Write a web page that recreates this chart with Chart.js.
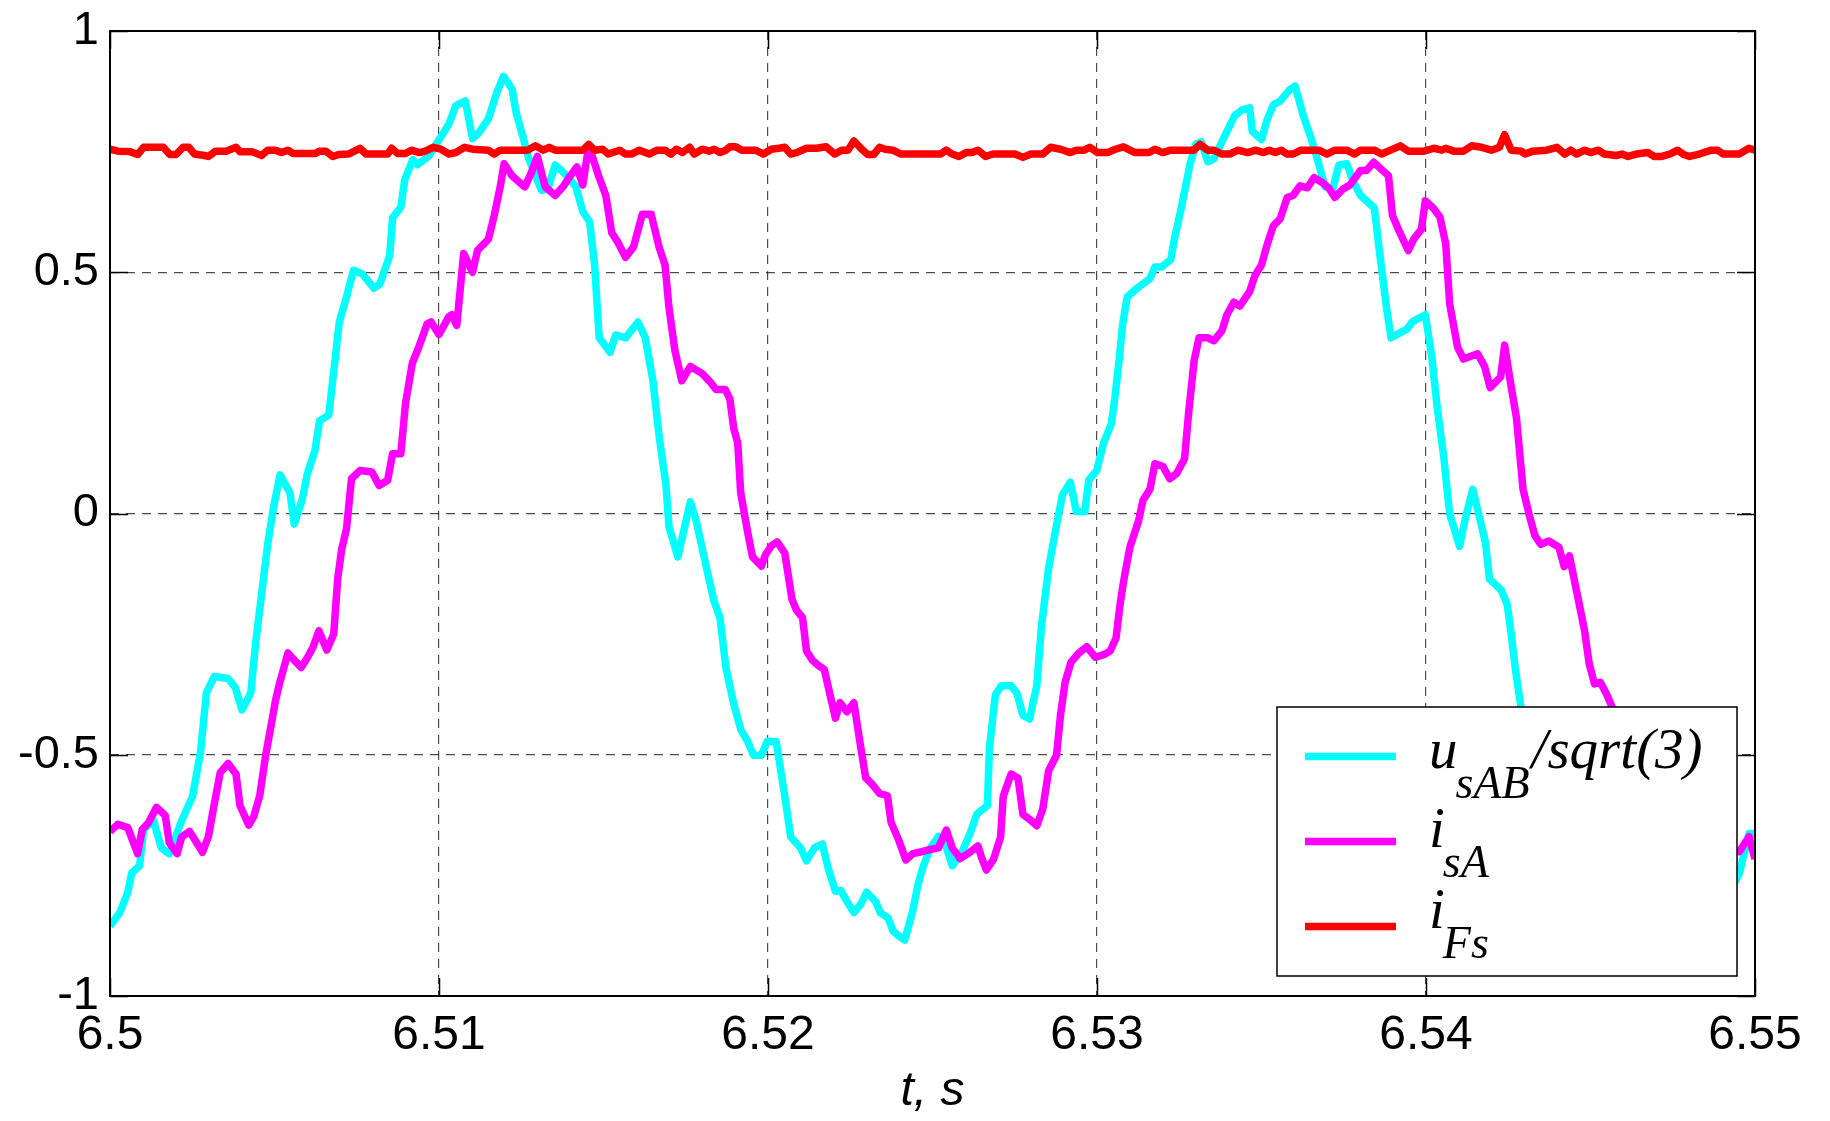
<!DOCTYPE html>
<html>
<head>
<meta charset="utf-8">
<title>u_sAB/sqrt(3), i_sA, i_Fs</title>
<script src="https://cdn.jsdelivr.net/npm/chart.js@4.4.1/dist/chart.umd.min.js"></script>
<style>
  html, body { margin: 0; padding: 0; background: #fff; }
  #wrap { width: 1830px; height: 1121px; }
</style>
</head>
<body>
<div id="wrap"><canvas id="lineChart" width="1830" height="1121"></canvas></div>
<script>
// time axis: values below are ms after t0
const t0 = 6.5;

const xTickValues = [6.5, 6.51, 6.52, 6.53, 6.54, 6.55];
const xTickLabels = ['6.5', '6.51', '6.52', '6.53', '6.54', '6.55'];
const yTickValues = [-1, -0.5, 0, 0.5, 1];
const yTickLabels = ['-1', '-0.5', '0', '0.5', '1'];

// u_sAB / sqrt(3)
const uTimeMs = [
  0.00, 0.30, 0.54, 0.66, 0.90, 1.02, 1.32, 1.56, 1.80, 2.16, 2.51, 2.75, 2.93, 3.17, 3.59, 3.81,
  4.01, 4.28, 4.43, 4.61, 4.79, 4.97, 5.17, 5.47, 5.60, 5.84, 5.99, 6.23, 6.37, 6.65, 6.80, 6.97,
  7.19, 7.40, 7.66, 8.02, 8.20, 8.50, 8.59, 8.84, 8.96, 9.20, 9.34, 9.68, 10.04, 10.30, 10.51, 10.80,
  11.02, 11.20, 11.50, 11.76, 11.96, 12.22, 12.34, 12.55, 12.72, 13.11, 13.30, 13.53, 13.89, 14.16, 14.37, 14.58,
  14.73, 14.87, 15.20, 15.37, 15.67, 16.05, 16.27, 16.51, 16.69, 16.90, 16.99, 17.26, 17.64, 17.82, 18.18, 18.36,
  18.54, 18.72, 18.96, 19.18, 19.38, 19.56, 19.80, 19.98, 20.25, 20.51, 20.69, 20.99, 21.17, 21.41, 21.65, 21.83,
  22.05, 22.21, 22.40, 22.61, 22.81, 23.00, 23.27, 23.41, 23.65, 23.80, 23.98, 24.16, 24.40, 24.56, 24.72, 24.94,
  25.18, 25.39, 25.60, 25.90, 26.14, 26.35, 26.67, 26.73, 26.91, 27.09, 27.39, 27.57, 27.75, 27.95, 28.17, 28.31,
  28.53, 28.77, 28.95, 29.19, 29.37, 29.63, 29.75, 29.99, 30.20, 30.44, 30.56, 30.68, 30.78, 30.92, 31.22, 31.61,
  31.76, 31.97, 32.24, 32.38, 32.54, 32.69, 32.83, 33.01, 33.17, 33.37, 33.55, 33.92, 34.19, 34.40, 34.64, 34.72,
  35.00, 35.16, 35.36, 35.57, 35.84, 36.02, 36.27, 36.51, 36.72, 36.93, 37.17, 37.35, 37.59, 37.81, 38.01, 38.19,
  38.43, 38.61, 38.80, 38.94, 39.22, 39.42, 39.58, 39.76, 39.98, 40.18, 40.34, 40.54, 40.72, 41.02, 41.20, 41.42,
  41.63, 41.81, 41.93, 42.29, 42.47, 42.59, 42.71, 42.89, 43.30, 43.80, 44.30, 44.80, 45.50, 46.20, 47.00, 47.80,
  48.50, 49.10, 49.52, 49.82, 50.00
];
const uValues = [
  -0.855, -0.827, -0.785, -0.745, -0.730, -0.655, -0.636, -0.693, -0.705, -0.640, -0.586, -0.495, -0.372, -0.338, -0.342, -0.361,
  -0.407, -0.372, -0.266, -0.166, -0.065, 0.013, 0.080, 0.043, -0.022, 0.028, 0.080, 0.131, 0.192, 0.204, 0.294, 0.397,
  0.449, 0.504, 0.497, 0.467, 0.475, 0.534, 0.613, 0.635, 0.692, 0.733, 0.723, 0.740, 0.779, 0.807, 0.845, 0.855,
  0.777, 0.788, 0.818, 0.873, 0.906, 0.880, 0.832, 0.781, 0.737, 0.670, 0.672, 0.722, 0.700, 0.677, 0.626, 0.604,
  0.515, 0.364, 0.334, 0.370, 0.364, 0.397, 0.364, 0.272, 0.161, 0.058, -0.027, -0.090, 0.024, -0.016, -0.128, -0.182,
  -0.216, -0.319, -0.395, -0.449, -0.472, -0.501, -0.501, -0.472, -0.473, -0.586, -0.670, -0.693, -0.720, -0.693, -0.685, -0.735,
  -0.783, -0.781, -0.804, -0.827, -0.811, -0.785, -0.804, -0.827, -0.838, -0.865, -0.876, -0.884, -0.823, -0.769, -0.731, -0.693,
  -0.669, -0.685, -0.730, -0.701, -0.663, -0.623, -0.605, -0.487, -0.376, -0.357, -0.357, -0.373, -0.418, -0.426, -0.357, -0.235,
  -0.113, -0.024, 0.039, 0.065, 0.004, 0.004, 0.069, 0.089, 0.146, 0.187, 0.249, 0.323, 0.393, 0.449, 0.467, 0.487,
  0.511, 0.511, 0.526, 0.578, 0.626, 0.677, 0.725, 0.766, 0.770, 0.729, 0.735, 0.788, 0.825, 0.836, 0.841, 0.792,
  0.775, 0.814, 0.847, 0.855, 0.877, 0.886, 0.825, 0.777, 0.729, 0.677, 0.674, 0.722, 0.725, 0.685, 0.659, 0.648,
  0.633, 0.530, 0.427, 0.364, 0.375, 0.382, 0.397, 0.404, 0.412, 0.323, 0.220, 0.117, -0.001, -0.068, -0.009, 0.050,
  -0.009, -0.061, -0.136, -0.159, -0.189, -0.250, -0.319, -0.403, -0.500, -0.600, -0.680, -0.720, -0.780, -0.830, -0.870, -0.880,
  -0.850, -0.800, -0.747, -0.663, -0.663
];

// i_sA
const iSATimeMs = [
  0.00, 0.24, 0.54, 0.84, 0.98, 1.17, 1.41, 1.68, 1.80, 2.04, 2.18, 2.42, 2.63, 2.81, 2.99, 3.17,
  3.35, 3.59, 3.83, 3.95, 4.22, 4.37, 4.55, 4.73, 4.91, 5.03, 5.15, 5.41, 5.60, 5.81, 5.99, 6.17,
  6.35, 6.59, 6.80, 6.92, 7.04, 7.19, 7.34, 7.60, 7.96, 8.18, 8.44, 8.59, 8.84, 8.98, 9.19, 9.37,
  9.64, 9.76, 10.00, 10.30, 10.39, 10.54, 10.75, 11.02, 11.17, 11.32, 11.50, 11.68, 11.86, 11.98, 12.22, 12.40,
  12.61, 12.81, 12.99, 13.23, 13.53, 13.77, 13.95, 14.19, 14.37, 14.51, 14.61, 14.85, 15.07, 15.25, 15.43, 15.67,
  15.91, 16.18, 16.45, 16.69, 16.87, 16.99, 17.17, 17.38, 17.64, 18.00, 18.24, 18.42, 18.70, 18.84, 18.96, 19.08,
  19.17, 19.38, 19.53, 19.80, 19.92, 20.10, 20.28, 20.51, 20.73, 20.87, 21.05, 21.17, 21.35, 21.53, 21.71, 21.85,
  22.05, 22.19, 22.40, 22.61, 22.79, 22.97, 23.15, 23.39, 23.63, 23.74, 23.98, 24.19, 24.40, 24.67, 24.88, 25.18,
  25.42, 25.60, 25.84, 26.08, 26.38, 26.50, 26.64, 26.86, 27.07, 27.15, 27.39, 27.60, 27.75, 27.99, 28.17, 28.35,
  28.53, 28.77, 28.89, 29.03, 29.21, 29.45, 29.69, 29.95, 30.22, 30.40, 30.58, 30.70, 30.82, 31.00, 31.26, 31.40,
  31.61, 31.76, 32.00, 32.21, 32.42, 32.66, 32.78, 32.95, 33.10, 33.37, 33.55, 33.80, 33.95, 34.16, 34.34, 34.64,
  34.80, 35.00, 35.18, 35.36, 35.57, 35.78, 35.96, 36.17, 36.39, 36.60, 36.87, 37.05, 37.23, 37.47, 37.69, 38.01,
  38.19, 38.41, 38.65, 38.86, 38.98, 39.16, 39.46, 39.64, 39.86, 39.98, 40.22, 40.42, 40.60, 40.72, 40.96, 41.14,
  41.57, 41.78, 41.95, 42.27, 42.39, 42.55, 42.75, 42.95, 43.13, 43.31, 43.49, 43.73, 44.04, 44.20, 44.36, 44.64,
  44.82, 44.96, 45.12, 45.30, 45.48, 45.72, 46.00, 46.50, 47.00, 47.50, 48.00, 48.50, 49.00, 49.52, 49.82, 50.00
];
const iSAValues = [
  -0.659, -0.644, -0.651, -0.705, -0.655, -0.641, -0.609, -0.626, -0.682, -0.705, -0.670, -0.659, -0.682, -0.702, -0.670, -0.602,
  -0.537, -0.518, -0.540, -0.605, -0.646, -0.628, -0.585, -0.502, -0.434, -0.388, -0.353, -0.289, -0.304, -0.319, -0.300, -0.277,
  -0.243, -0.283, -0.250, -0.136, -0.075, -0.031, 0.072, 0.089, 0.086, 0.058, 0.069, 0.124, 0.124, 0.227, 0.312, 0.342,
  0.393, 0.397, 0.371, 0.408, 0.412, 0.390, 0.539, 0.500, 0.545, 0.556, 0.568, 0.618, 0.677, 0.725, 0.700, 0.689,
  0.677, 0.707, 0.740, 0.677, 0.659, 0.677, 0.696, 0.718, 0.681, 0.744, 0.751, 0.700, 0.659, 0.582, 0.563, 0.531,
  0.552, 0.620, 0.620, 0.552, 0.515, 0.427, 0.338, 0.275, 0.305, 0.290, 0.273, 0.257, 0.257, 0.238, 0.176, 0.146,
  0.043, -0.038, -0.090, -0.109, -0.086, -0.067, -0.059, -0.082, -0.178, -0.201, -0.216, -0.285, -0.304, -0.315, -0.323, -0.365,
  -0.424, -0.392, -0.411, -0.392, -0.472, -0.548, -0.560, -0.580, -0.585, -0.640, -0.678, -0.718, -0.705, -0.701, -0.697, -0.693,
  -0.656, -0.693, -0.715, -0.705, -0.689, -0.715, -0.739, -0.716, -0.670, -0.586, -0.540, -0.548, -0.624, -0.636, -0.647, -0.613,
  -0.533, -0.501, -0.418, -0.350, -0.308, -0.289, -0.276, -0.298, -0.292, -0.285, -0.258, -0.189, -0.136, -0.070, -0.016, 0.028,
  0.050, 0.103, 0.098, 0.072, 0.083, 0.113, 0.205, 0.316, 0.364, 0.364, 0.358, 0.379, 0.412, 0.438, 0.430, 0.460,
  0.493, 0.515, 0.559, 0.596, 0.611, 0.655, 0.659, 0.679, 0.675, 0.696, 0.685, 0.674, 0.655, 0.672, 0.681, 0.711,
  0.711, 0.728, 0.713, 0.700, 0.618, 0.589, 0.545, 0.570, 0.589, 0.648, 0.633, 0.615, 0.559, 0.434, 0.345, 0.320,
  0.331, 0.305, 0.261, 0.283, 0.349, 0.279, 0.198, 0.050, -0.001, -0.046, -0.064, -0.057, -0.070, -0.110, -0.088, -0.182,
  -0.243, -0.311, -0.353, -0.350, -0.373, -0.411, -0.450, -0.520, -0.580, -0.620, -0.650, -0.680, -0.700, -0.701, -0.670, -0.716
];

// i_Fs
const iFsTimeMs = [
  0.00, 0.24, 0.60, 0.84, 1.02, 1.62, 1.82, 2.01, 2.22, 2.40, 2.57, 2.87, 2.99, 3.21, 3.53, 3.83,
  3.95, 4.31, 4.61, 4.79, 5.03, 5.21, 5.41, 5.57, 6.23, 6.37, 6.56, 6.77, 6.95, 7.25, 7.43, 7.60,
  7.78, 8.44, 8.56, 8.74, 8.98, 9.16, 9.40, 9.58, 9.82, 10.06, 10.30, 10.51, 10.78, 11.02, 11.50, 11.68,
  11.86, 12.69, 12.93, 13.17, 13.35, 13.53, 14.37, 14.55, 14.73, 14.97, 15.15, 15.49, 15.67, 15.85, 16.09, 16.39,
  16.63, 16.87, 17.05, 17.22, 17.40, 17.62, 17.76, 18.00, 18.22, 18.36, 18.54, 18.72, 18.84, 19.02, 19.20, 19.62,
  19.86, 20.10, 20.33, 20.51, 20.69, 20.87, 21.17, 21.47, 21.77, 22.03, 22.25, 22.43, 22.61, 22.85, 23.03, 23.21,
  23.39, 23.56, 23.80, 24.04, 25.24, 25.42, 25.60, 25.80, 26.02, 26.20, 26.38, 26.61, 26.85, 27.51, 27.75, 27.99,
  28.35, 28.59, 28.89, 29.19, 29.37, 29.61, 29.78, 30.02, 30.32, 30.56, 30.80, 31.16, 31.58, 31.76, 32.00, 32.24,
  32.95, 33.13, 33.37, 33.55, 33.80, 34.04, 34.28, 34.58, 34.82, 35.06, 35.24, 35.42, 35.60, 35.78, 35.96, 36.20,
  36.75, 36.99, 37.23, 37.59, 37.83, 38.01, 38.43, 38.65, 38.92, 39.22, 39.46, 39.94, 40.24, 40.48, 40.60, 40.84,
  41.14, 41.39, 41.69, 41.99, 42.23, 42.39, 42.59, 42.89, 43.01, 43.25, 43.67, 43.98, 44.22, 44.40, 44.58, 44.82,
  45.00, 45.24, 45.42, 45.78, 45.96, 46.14, 46.39, 46.75, 46.93, 47.17, 47.41, 47.65, 47.83, 48.01, 48.31, 48.67,
  48.86, 49.04, 49.52, 49.82, 50.00
];
const iFsValues = [
  0.755, 0.751, 0.750, 0.744, 0.759, 0.759, 0.744, 0.744, 0.759, 0.759, 0.745, 0.742, 0.740, 0.751, 0.751, 0.759,
  0.750, 0.750, 0.742, 0.753, 0.753, 0.748, 0.753, 0.746, 0.746, 0.751, 0.751, 0.740, 0.744, 0.745, 0.751, 0.757,
  0.745, 0.745, 0.757, 0.746, 0.746, 0.753, 0.748, 0.751, 0.759, 0.755, 0.745, 0.748, 0.759, 0.755, 0.753, 0.745,
  0.753, 0.753, 0.762, 0.753, 0.759, 0.753, 0.753, 0.765, 0.753, 0.755, 0.745, 0.753, 0.745, 0.745, 0.753, 0.745,
  0.753, 0.753, 0.745, 0.755, 0.748, 0.759, 0.745, 0.755, 0.751, 0.755, 0.748, 0.753, 0.760, 0.760, 0.753, 0.753,
  0.745, 0.755, 0.757, 0.759, 0.745, 0.748, 0.757, 0.757, 0.760, 0.745, 0.753, 0.753, 0.772, 0.755, 0.744, 0.744,
  0.759, 0.755, 0.753, 0.745, 0.745, 0.753, 0.745, 0.740, 0.748, 0.748, 0.753, 0.740, 0.745, 0.745, 0.738, 0.745,
  0.745, 0.759, 0.755, 0.748, 0.753, 0.753, 0.759, 0.748, 0.748, 0.755, 0.760, 0.748, 0.748, 0.755, 0.748, 0.753,
  0.753, 0.765, 0.753, 0.753, 0.745, 0.745, 0.753, 0.748, 0.753, 0.748, 0.753, 0.748, 0.753, 0.745, 0.745, 0.753,
  0.753, 0.745, 0.753, 0.753, 0.745, 0.753, 0.753, 0.745, 0.753, 0.762, 0.751, 0.751, 0.757, 0.753, 0.757, 0.751,
  0.751, 0.762, 0.759, 0.753, 0.759, 0.785, 0.753, 0.751, 0.745, 0.751, 0.753, 0.759, 0.745, 0.753, 0.745, 0.753,
  0.748, 0.753, 0.745, 0.742, 0.745, 0.740, 0.745, 0.748, 0.740, 0.740, 0.745, 0.753, 0.744, 0.740, 0.745, 0.753,
  0.753, 0.745, 0.745, 0.757, 0.753
];

const legendItems = [
  { color: '#00ffff', main: 'u', sub: 'sAB', rest: '/sqrt(3)' },
  { color: '#ff00ff', main: 'i', sub: 'sA', rest: '' },
  { color: '#ff0000', main: 'i', sub: 'Fs', rest: '' }
];

const toPoints = (ms, vals) => ms.map((m, i) => ({ x: t0 + m / 1000, y: vals[i] }));

// box, inner tick marks and the legend (with subscripts)
const framePlugin = {
  id: 'frame',
  afterDatasetsDraw(chart) {
    const { ctx, chartArea: a, scales } = chart;
    ctx.save();
    ctx.strokeStyle = '#000';
    ctx.lineWidth = 1.5;
    ctx.setLineDash([]);
    const tl = 18;
    ctx.beginPath();
    xTickValues.forEach(v => {
      const x = Math.round(scales.x.getPixelForValue(v)) + 0.5;
      ctx.moveTo(x, a.bottom); ctx.lineTo(x, a.bottom - tl);
      ctx.moveTo(x, a.top); ctx.lineTo(x, a.top + tl);
    });
    yTickValues.forEach(v => {
      const y = Math.round(scales.y.getPixelForValue(v)) + 0.5;
      ctx.moveTo(a.left, y); ctx.lineTo(a.left + tl, y);
      ctx.moveTo(a.right, y); ctx.lineTo(a.right - tl, y);
    });
    ctx.stroke();
    ctx.lineWidth = 2;
    ctx.strokeRect(a.left, a.top, a.right - a.left, a.bottom - a.top);
    ctx.restore();
  },
  afterDraw(chart) {
    const { ctx, chartArea: a } = chart;
    const w = 460, h = 269;
    const bx = a.right - 18 - w;
    const by = a.bottom - 20 - h;
    ctx.save();
    ctx.fillStyle = '#fff';
    ctx.fillRect(bx, by, w, h);
    ctx.strokeStyle = '#000';
    ctx.lineWidth = 1.5;
    ctx.strokeRect(bx, by, w, h);

    const lineY = [49.5, 134.5, 219.5];
    const baseY = [61, 140, 221];
    legendItems.forEach((it, i) => {
      ctx.strokeStyle = it.color;
      ctx.lineWidth = 7.5;
      ctx.beginPath();
      ctx.moveTo(bx + 28, by + lineY[i]);
      ctx.lineTo(bx + 119, by + lineY[i]);
      ctx.stroke();

      ctx.fillStyle = '#000';
      ctx.textBaseline = 'alphabetic';
      ctx.textAlign = 'left';
      let x = bx + 152;
      ctx.font = 'italic 57px "Liberation Serif", "Times New Roman", serif';
      ctx.fillText(it.main, x, by + baseY[i]);
      x += ctx.measureText(it.main).width - 2;
      ctx.font = 'italic 46px "Liberation Serif", "Times New Roman", serif';
      ctx.fillText(it.sub, x, by + baseY[i] + 29.5);
      x += ctx.measureText(it.sub).width + 2;
      if (it.rest) {
        ctx.font = 'italic 57px "Liberation Serif", "Times New Roman", serif';
        ctx.fillText(it.rest, x, by + baseY[i]);
      }
    });
    ctx.restore();
  }
};

const gridStyle = { color: 'rgba(0,0,0,0.7)', lineWidth: 1.2, drawTicks: false };
const lineWidth = 7.5;

const ctx = document.getElementById('lineChart').getContext('2d');

const lineChart = new Chart(ctx, {
  type: 'line',
  data: {
    datasets: [
      {
        label: 'i_Fs',
        data: toPoints(iFsTimeMs, iFsValues),
        borderColor: '#ff0000',
        borderWidth: lineWidth,
        order: 0
      },
      {
        label: 'i_sA',
        data: toPoints(iSATimeMs, iSAValues),
        borderColor: '#ff00ff',
        borderWidth: lineWidth,
        order: 1
      },
      {
        label: 'u_sAB/sqrt(3)',
        data: toPoints(uTimeMs, uValues),
        borderColor: '#00ffff',
        borderWidth: lineWidth,
        order: 2
      }
    ]
  },
  options: {
    responsive: false,
    animation: false,
    devicePixelRatio: 1,
    layout: { padding: { left: 0, right: 75, top: 31, bottom: 0 } },
    elements: {
      point: { radius: 0 },
      line: { tension: 0, fill: false, borderJoinStyle: 'round', borderCapStyle: 'butt' }
    },
    plugins: {
      legend: { display: false },
      tooltip: { enabled: false }
    },
    scales: {
      x: {
        type: 'linear',
        min: 6.5,
        max: 6.55,
        grid: gridStyle,
        border: { display: false, dash: [9, 7] },
        afterBuildTicks: scale => { scale.ticks = xTickValues.map(value => ({ value })); },
        afterFit: scale => { scale.height = 125; },
        ticks: {
          autoSkip: false,
          maxRotation: 0,
          padding: 11,
          color: '#000',
          font: { family: '"Liberation Sans", Arial, sans-serif', size: 48 },
          callback: (value, index) => xTickLabels[index]
        },
        title: {
          display: true,
          text: 't, s',
          color: '#000',
          padding: { top: 0, bottom: 1 },
          font: { family: '"Liberation Sans", Arial, sans-serif', size: 48, style: 'italic' }
        }
      },
      y: {
        min: -1,
        max: 1,
        grid: gridStyle,
        border: { display: false, dash: [9, 7] },
        afterBuildTicks: scale => { scale.ticks = yTickValues.map(value => ({ value })); },
        afterFit: scale => {
          scale.width = 110;
          scale.paddingTop = 0;
          scale.paddingBottom = 0;
        },
        ticks: {
          padding: 11,
          color: '#000',
          font: { family: '"Liberation Sans", Arial, sans-serif', size: 47 },
          callback: (value, index) => yTickLabels[index]
        }
      }
    }
  },
  plugins: [framePlugin]
});
</script>
</body>
</html>
